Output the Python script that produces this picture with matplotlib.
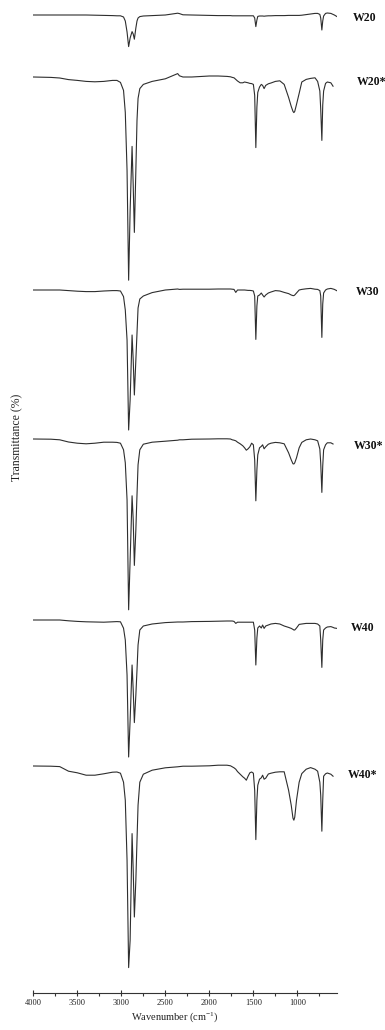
import matplotlib
matplotlib.use('Agg')
import matplotlib.pyplot as plt
from matplotlib.ticker import MultipleLocator
import numpy as np

plt.rcParams['font.family'] = ['Liberation Serif', 'DejaVu Serif']
plt.rcParams['mathtext.fontset'] = 'custom'
plt.rcParams['mathtext.rm'] = 'Liberation Serif'
plt.rcParams['mathtext.it'] = 'Liberation Serif:italic'

nan = float('nan')

# wavenumber grid (cm^-1)
wavenumber = [4000, 3800, 3700, 3600, 3500, 3400, 3300, 3200, 3100, 3050,
              3010, 2975, 2955, 2935, 2917, 2900, 2878, 2865, 2852, 2835,
              2822, 2810, 2790, 2750, 2650, 2500, 2360, 2340, 2300, 2200,
              2000, 1900, 1800, 1760, 1740, 1720, 1700, 1680, 1650, 1620,
              1600, 1580, 1560, 1540, 1520, 1500, 1485, 1472, 1460, 1450,
              1430, 1410, 1395, 1378, 1360, 1330, 1300, 1250, 1200, 1150,
              1100, 1070, 1050, 1040, 1030, 1010, 980, 950, 900, 850,
              800, 770, 745, 735, 722, 712, 702, 680, 660, 620,
              595, 580, 550]

# transmittance (relative, baseline = 100)
W20 = [100, 100, 100, 100, 100, 100, 99.9, 99.8, 99.7, 99.6,
       99.6, 99, 97, 91.5, 84.2, 88.5, 91.7, 90.5, 87.9, 93.5,
       97, 98.5, 99.2, 99.5, 99.7, 100, 100.9, 100.7, 100.1, 100,
       99.8, 99.7, 99.7, 99.7, 99.6, 99.6, 99.6, 99.6, 99.6, 99.6,
       99.6, 99.6, 99.6, 99.6, 99.6, 99.6, 98.5, 94.2, 97.5, 99.3,
       99.5, 99.5, 99.5, 99.4, 99.5, 99.6, 99.6, 99.7, 99.7, 99.7,
       99.8, 99.8, 99.8, 99.8, 99.8, 99.8, 99.8, 99.9, 100.2, 100.5,
       100.8, 100.8, 100.3, 98.5, 92.5, 97, 99.5, 100.8, 101, 100.8,
       100.3, 100, 99.2]

W20s = [100, 99.8, 99.5, 98.7, 98.3, 97.8, 97.6, 97.8, 98.3, 98.3,
        97.3, 93.3, 82.3, 53.3, -1.6, 33.3, 65.3, 45.8, 22.3, 53.3,
        78.3, 89.3, 94.2, 96.3, 97.8, 99.1, 101.7, 100.6, 100, 100,
        100.5, 100.5, 100.3, 100.1, 99.8, 99.6, 98.8, 98, 97.1, 97.1,
        97.5, 97.3, 97.1, 96.8, 96.7, 96.3, 90.8, 64.7, 85, 92.3,
        95, 96.3, 95.8, 94.2, 95.8, 96.6, 97, 97.8, 98.1, 96.3,
        89.8, 85.3, 82.8, 82.2, 82.8, 86.3, 91.8, 97.5, 98.8, 99.3,
        99.6, 97.8, 93, 84, 68.3, 86, 93, 96.8, 97.5, 97.1,
        95.4, nan, nan]

W30 = [100, 100, 100, 99.7, 99.4, 99.2, 99.2, 99.5, 99.7, 99.7,
       99.5, 96.7, 90, 75, 30, 45, 77.5, 65, 47.5, 65,
       78.5, 91, 95.5, 97, 98.7, 100, 100.5, 100.3, 100.4, 100.4,
       100.4, 100.5, 100.5, 100.5, 100.4, 100.3, 98.8, 100, 100, 100,
       100, 99.9, 99.8, 99.8, 99.7, 99.5, 97, 75.3, 92, 97,
       97.5, 98.5, 97.5, 96.5, 97.5, 98.5, 99, 99.7, 99.5, 98.8,
       98.2, 97.5, 97.2, 97.2, 97.5, 98.5, 100, 100.3, 100.6, 100.8,
       100.4, 100.3, 99.7, 97, 76.3, 93, 98.5, 100, 100.5, 100.8,
       100.5, 100.3, 99.6]

W30s = [100, 99.9, 99.6, 98.5, 97.9, 97.6, 97.9, 98.4, 98.4, 98.3,
        97.9, 94.6, 88.1, 69.6, 14.6, 39.6, 71.6, 59.6, 36.8, 54.6,
        72.1, 87.1, 94.6, 97.4, 98.4, 98.9, 99.4, 99.6, 99.6, 99.9,
        100, 100.1, 100.1, 100, 99.6, 99.4, 99.1, 98.4, 97.6, 96.6,
        95.6, 94.4, 95.1, 96.1, 97.9, 97.1, 89.6, 69.1, 84.6, 92.1,
        95.6, 96.3, 97.1, 95.1, 96.1, 97.4, 97.9, 98.3, 98.1, 97.6,
        93.1, 89.6, 87.6, 87.5, 88.1, 90.6, 95.6, 98.3, 99.6, 100,
        99.6, 99.1, 95, 88, 73.3, 86.6, 94.6, 97.1, 98.1, 98.1,
        97.5, nan, nan]

W40 = [100, 100, 100, 99.6, 99.3, 99.1, 99, 98.9, 99.1, 99.2,
       99.1, 95.9, 90, 72.5, 31.5, 50, 77.5, 65, 48.7, 62.5,
       75, 87.5, 95, 97, 98, 98.7, 99, 99, 99, 99.2,
       99.3, 99.4, 99.5, 99.5, 99.5, 99.3, 98.3, 98.9, 98.9, 98.9,
       98.9, 98.9, 98.9, 98.9, 98.9, 98.9, 95, 77.5, 91, 96,
       97, 96, 97.5, 95.8, 97, 97.5, 98, 98.3, 98, 97,
       96.3, 95.8, 95.3, 95, 95, 96, 97.8, 98, 98.3, 98.3,
       98.3, 98, 97, 90, 76.3, 90, 95, 96, 96.5, 96.7,
       96.3, 96, 95.8]

W40s = [100, 99.9, 99.7, 97.4, 96.6, 95.4, 95.4, 96.1, 96.9, 97,
        96.4, 91.9, 82.9, 52.9, -0.8, 12.9, 66.2, 47.9, 24.5, 42.9,
        62.9, 80.4, 91.9, 95.9, 97.9, 99.1, 99.6, 99.7, 99.9, 99.9,
        100.1, 100.4, 100.4, 100.1, 99.6, 99.1, 98.4, 97.2, 95.9, 94.6,
        93.9, 92.9, 94.9, 96.6, 97, 96.4, 87.9, 63.2, 82.9, 90.4,
        93.4, 94.1, 95.4, 93.4, 93.9, 96, 96.4, 96.9, 97.1, 97.1,
        87.9, 80.4, 73.9, 72.9, 74.4, 82.9, 91.9, 96.2, 98.4, 99.2,
        98.4, 97.4, 91.9, 85.4, 67.4, 82.9, 94.9, 96.1, 96.5, 95.9,
        94.9, nan, nan]

names = ['W20', 'W20*', 'W30', 'W30*', 'W40', 'W40*']
series = [W20, W20s, W30, W30s, W40, W40s]

# layout (vertical stacking offsets and label placement, in pixels)
offsets = [389, 358, 251.5, 177, 86.5, 13.5]
label_px = [(353, 18), (357, 82), (356, 292), (354, 446), (351, 628), (348, 775)]

W, H = 385, 1030
fig = plt.figure(figsize=(W / 100, H / 100), dpi=100)
ax = fig.add_axes([33.3 / W, 37 / H, 303.7 / W, 993 / H])

line_color = '#2e2e2e'
for vals, off in zip(series, offsets):
    ax.plot(wavenumber, np.array(vals, dtype=float) + off, color=line_color, lw=0.8)

ax.set_xlim(4000, 550)
ax.set_ylim(0, 496.5)
for s in ['left', 'right', 'top']:
    ax.spines[s].set_visible(False)
ax.spines['bottom'].set_linewidth(0.8)
ax.spines['bottom'].set_color('#333333')
ax.set_yticks([])
ax.set_xticks([4000, 3500, 3000, 2500, 2000, 1500, 1000])
ax.xaxis.set_minor_locator(MultipleLocator(250))
ax.tick_params(axis='x', which='major', direction='inout', length=5, width=0.8,
               labelsize=6, pad=2, color='#333333', labelcolor='#222222')
ax.tick_params(axis='x', which='minor', direction='out', length=2.5, width=0.8, color='#333333')

for name, (px, py) in zip(names, label_px):
    fig.text(px / W, 1 - py / H, name, ha='left', va='center', fontsize=8.5,
             fontweight='bold', color='#111111')

fig.text(175 / W, 1 - 1017 / H, r'Wavenumber (cm$^{-1}$)', ha='center', va='center',
         fontsize=7.5, color='#222222')
fig.text(17 / W, 1 - 437 / H, 'Transmittance (%)', rotation=90, ha='center', va='center',
         fontsize=8.5, color='#222222')

fig.savefig('out.png', dpi=100, facecolor='white')
